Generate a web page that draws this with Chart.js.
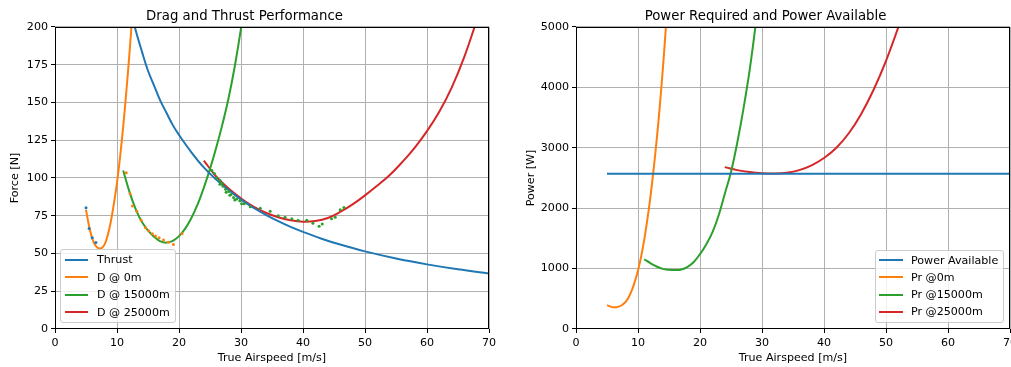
<!DOCTYPE html>
<html><head><meta charset="utf-8">
<script src="https://cdn.jsdelivr.net/npm/chart.js@4.4.1/dist/chart.umd.min.js"></script>
<style>
html,body{margin:0;padding:0;background:#fff;width:1011px;height:367px;overflow:hidden;font-family:"DejaVu Sans",sans-serif;}
#c1{position:absolute;left:0;top:0;}
#c2{position:absolute;left:521px;top:0;}
.legend{position:absolute;background:rgba(255,255,255,0.8);border:1px solid #cccccc;border-radius:3px;box-sizing:border-box;}
.row{position:absolute;font-size:11.1px;line-height:13px;color:#000;white-space:nowrap;}
.sw{position:absolute;height:2px;}
</style></head><body>
<canvas id="c1" width="505" height="367"></canvas>
<canvas id="c2" width="490" height="367"></canvas>
<div id="leg1" class="legend" style="left:60px;top:249px;width:116px;height:74px;"></div>
<div id="leg2" class="legend" style="left:875px;top:250px;width:129px;height:73px;"></div>
<script>
// ---------- data ----------
const thrustV = [5,6,7,8,9,10,11,12,13,14,15,16,17,18,19,20,22,24,26,28,30,32,34,36,38,40,43,46,50,55,60,65,70];
const thrustN = [514,428,367,321,286,257,234,214,198,184,171,161,151,143,135,128.5,117,107,99,92,85.7,80.3,75.6,71.4,67.6,64.3,59.8,55.9,51.4,46.7,42.8,39.5,36.7];

const drag0V = [5,5.5,6,6.5,7,7.5,8,8.5,9,9.5,10,10.5,11,11.5,12,12.5,13];
const drag0N = [79,68,60,55.5,53.5,53.5,56,62,71,83,97,114,134,157,182,210,240];

const drag15V = [11,12,13,14,15,16,17,18,19,20,21,22,23,24,25,26,27,28,29,30,31];
const drag15N = [105,91,79.6,71,65.3,61,58,57.2,58.4,61.5,66.5,73.5,82.5,93.5,106,120,135.5,153,174,199,228];

const drag25V = [24,26,28,30,32,34,36,38,40,42,44,46,48,50,52,54,56,58,60,62,64,66,68];
const drag25N = [111.5,101,93,86.5,81,77,74,72,71,71.5,73.5,77.5,82.5,88.5,95,102,110.5,120,131,144,160,180,204];

// measured drag samples (dots)
const meas0V = [5.0,5.5,6.0,6.6];
const meas0N = [80.3,66.5,60.5,57.2];
const meas15V = [11.5,12.1,12.5,13.2,13.9,14.6,15.1,15.7,16.2,16.8,17.5,18.3,19.1,20.5];
const meas15N = [103.5,89.5,81.5,78,72,67,65,63,61.5,60.5,59,57.5,56,63];
const meas25V = [25.3,25.7,26.1,26.6,26.6,26.9,27.1,27.5,27.6,28.0,28.2,28.4,28.8,29.0,29.3,29.8,30.1,30.5,31.5,33.1,34.7,36.0,37.1,38.2,39.2,40.6,41.6,42.6,43.1,44.6,45.2,46.0,46.6];
const meas25N = [105,103,100,98.5,95.8,96.5,94.5,92.5,90.5,91,88.5,89,87,85.5,86,85,83,83,81,80,78,75,74,73,72,72,70,68,69.5,73,74,79,80.5];

const powerAvailV = [5,70];
const powerAvailW = [2570,2570];

const pr0V = [5,5.5,6,6.5,7,7.5,8,8.5,9,9.5,10,10.5,11,11.5,12,12.5,13,13.5,14,14.5,15];
const pr0W = [395,374,360,361,375,401,448,527,639,789,970,1197,1474,1806,2184,2625,3120,3672,4298,5003,5800];

const pr15V = [11,12,13,14,15,16,17,18,19,20,21,22,23,24,25,26,27,28,29,30];
const pr15W = [1155,1090,1035,995,980,975,985,1030,1110,1240,1400,1600,1880,2240,2600,3080,3640,4280,5060,5960];

const pr25V = [24,26,28,30,32,34,36,38,40,42,44,46,48,50,52,54];
const pr25W = [2680,2630,2598,2580,2575,2588,2630,2710,2830,3000,3240,3560,3960,4440,5000,5620];

const xTicks = [0,10,20,30,40,50,60,70];
const forceTicks = [0,25,50,75,100,125,150,175,200];
const powerTicks = [0,1000,2000,3000,4000,5000];

const leftLegend = ['Thrust','D @ 0m','D @ 15000m','D @ 25000m'];
const rightLegend = ['Power Available','Pr @0m','Pr @15000m','Pr @25000m'];
const colors = ['#1f77b4','#ff7f0e','#2ca02c','#d62728'];

// ---------- helpers ----------
const FONT = '"DejaVu Sans", sans-serif';
const pts = (xs, ys) => xs.map((x, i) => ({x, y: ys[i]}));

function lineDs(label, xs, ys, color){
  return {label, data: pts(xs, ys), showLine: true, borderColor: color, backgroundColor: color,
    borderWidth: 2, pointRadius: 0, tension: 0.4, order: 1};
}
function dotDs(label, xs, ys, color){
  return {label, data: pts(xs, ys), showLine: false, borderColor: color, backgroundColor: color,
    borderWidth: 0, pointRadius: 1.5, order: 0};
}
function xScale(){
  return {type: 'linear', min: 0, max: 70,
    afterBuildTicks(s){ s.ticks = xTicks.map(v => ({value: v})); },
    ticks: {color: '#000', font: {family: FONT, size: 11.1}, padding: 3, maxRotation: 0, autoSkip: false,
      callback: v => String(v)},
    grid: {color: '#b0b0b0', lineWidth: 1, drawTicks: true, tickLength: 4, tickColor: '#000', tickWidth: 1},
    border: {display: false},
    title: {display: true, text: 'True Airspeed [m/s]', color: '#000', font: {family: FONT, size: 11.1}, padding: {top: 0, bottom: 2}},
    afterFit(s){ s.height = 38; s.paddingLeft = 0; s.paddingRight = 0; }
  };
}
function yScale(max, tickList, label, titlePad){
  return {type: 'linear', min: 0, max: max,
    afterBuildTicks(s){ s.ticks = tickList.map(v => ({value: v})); },
    ticks: {color: '#000', font: {family: FONT, size: 11.1}, padding: 3, autoSkip: false,
      callback: v => String(v)},
    grid: {color: '#b0b0b0', lineWidth: 1, drawTicks: true, tickLength: 4, tickColor: '#000', tickWidth: 1},
    border: {display: false},
    title: {display: true, text: label, color: '#000', font: {family: FONT, size: 11.1}, padding: {top: titlePad, bottom: 0}},
    afterFit(s){ s.width = 55; s.paddingTop = 0; s.paddingBottom = 0; }
  };
}
const frame = {
  id: 'frame',
  afterDraw(chart){
    const a = chart.chartArea, c = chart.ctx;
    c.save();
    c.strokeStyle = '#000'; c.lineWidth = 1;
    c.strokeRect(Math.round(a.left) + 0.5, Math.round(a.top) + 0.5, Math.round(a.right - a.left) - 1, Math.round(a.bottom - a.top) - 1);
    c.restore();
  }
};
function opts(titleText, yCfg, padRight){
  return {
    responsive: false, animation: false, devicePixelRatio: 1,
    layout: {padding: {left: 0, right: padRight, top: 0, bottom: 0}},
    plugins: {
      legend: {display: false},
      tooltip: {enabled: false},
      title: {display: true, text: titleText, color: '#000', font: {family: FONT, size: 13.3, weight: 'normal'},
        padding: {top: 9, bottom: 2}}
    },
    scales: {x: xScale(), y: yCfg}
  };
}

new Chart(document.getElementById('c1'), {
  type: 'scatter',
  data: {datasets: [
    lineDs(leftLegend[0], thrustV, thrustN, colors[0]),
    lineDs(leftLegend[1], drag0V, drag0N, colors[1]),
    lineDs(leftLegend[2], drag15V, drag15N, colors[2]),
    lineDs(leftLegend[3], drag25V, drag25N, colors[3]),
    dotDs('data 0m', meas0V, meas0N, colors[0]),
    dotDs('data 15000m', meas15V, meas15N, colors[1]),
    dotDs('data 25000m', meas25V, meas25N, colors[2])
  ]},
  options: opts('Drag and Thrust Performance', yScale(200, forceTicks, 'Force [N]', 8.3), 16),
  plugins: [frame]
});

new Chart(document.getElementById('c2'), {
  type: 'scatter',
  data: {datasets: [
    lineDs(rightLegend[0], powerAvailV, powerAvailW, colors[0]),
    lineDs(rightLegend[1], pr0V, pr0W, colors[1]),
    lineDs(rightLegend[2], pr15V, pr15W, colors[2]),
    lineDs(rightLegend[3], pr25V, pr25W, colors[3])
  ]},
  options: opts('Power Required and Power Available', yScale(5000, powerTicks, 'Power [W]', 3.5), 1),
  plugins: [frame]
});

// ---------- legends ----------
function buildLegend(id, labels, firstCenter, step, lineLeft, lineWidth, textLeft){
  const box = document.getElementById(id);
  labels.forEach((lab, i) => {
    const cy = firstCenter + i * step;
    const sw = document.createElement('div');
    sw.className = 'sw';
    sw.style.left = lineLeft + 'px'; sw.style.width = lineWidth + 'px';
    sw.style.top = (cy - 1) + 'px'; sw.style.background = colors[i];
    box.appendChild(sw);
    const t = document.createElement('div');
    t.className = 'row';
    t.style.left = textLeft + 'px'; t.style.top = (cy - 6.5) + 'px';
    t.textContent = lab;
    box.appendChild(t);
  });
}
buildLegend('leg1', leftLegend, 9.5, 17.6, 4, 23, 36);
buildLegend('leg2', rightLegend, 9, 17.3, 3, 24, 35);
</script>
</body></html>
